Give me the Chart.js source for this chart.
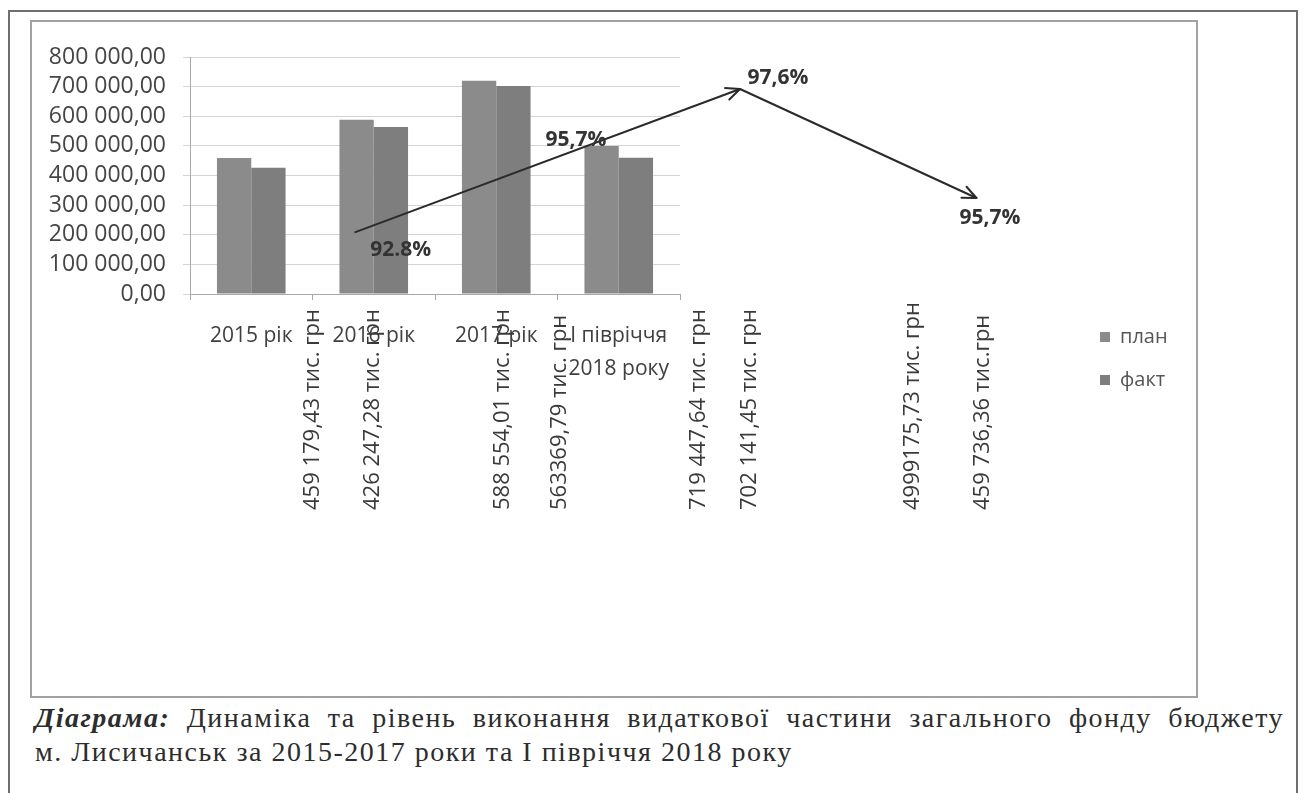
<!DOCTYPE html>
<html lang="uk">
<head>
<meta charset="utf-8">
<title>Видаткова частина загального фонду бюджету м. Лисичанськ</title>
<script src="https://cdn.jsdelivr.net/npm/chart.js@4.4.1/dist/chart.umd.min.js"></script>
<style>
  html, body { margin: 0; padding: 0; background: #fff; }
  body { width: 1306px; height: 793px; position: relative; overflow: hidden; }
  .sheet { position: absolute; left: 8px; top: 10px; width: 1286px; height: 800px; border: 2px solid #6f6f6f; }
  .frame { position: absolute; left: 30px; top: 20px; width: 1164px; height: 674px; border: 2px solid #a2a2a2; }
  #chart { position: absolute; left: 32px; top: 22px; }
  .caption { position: absolute; left: 35px; top: 701px; width: 1249px;
             font-family: 'Liberation Serif', 'Times New Roman', serif; font-size: 28px;
             letter-spacing: 1.5px; line-height: 34px; color: #2d2d2d; }
  .caption .l1 { text-align: justify; text-align-last: justify; }
  .caption .l2 { text-align: left; }
</style>
</head>
<body>
<div class="sheet"></div>
<div class="frame"></div>
<canvas id="chart" width="1164" height="674"></canvas>
<div class="caption">
  <div class="l1"><b><i>Діаграма:</i></b> Динаміка та рівень виконання видаткової частини загального фонду бюджету</div>
  <div class="l2">м. Лисичанськ за 2015-2017 роки та І півріччя 2018 року</div>
</div>
<script>
// ---- data -------------------------------------------------------------
const periods = [['2015 рік'], ['2016 рік'], ['2017 рік'], ['І півріччя', '2018 року']];
const seriesNames = ['план', 'факт'];
const planValues = [459179.43, 588554.01, 719447.64, 499175.73];
const factValues = [426247.28, 563369.79, 702141.45, 459736.36];
const amountLabels = [
  '459 179,43 тис. грн', '426 247,28 тис. грн',
  '588 554,01 тис. грн', '563369,79 тис. грн',
  '719 447,64 тис. грн', '702 141,45 тис. грн',
  '4999175,73 тис. грн', '459 736,36 тис.грн'
];
const executionLabels = ['92.8%', '95,7%', '97,6%', '95,7%'];
const yTickValues = [0, 100000, 200000, 300000, 400000, 500000, 600000, 700000, 800000];

// ---- placement of the free annotations (category index, amount) -------
const amountSlots = [0.50, 0.99, 2.05, 2.52, 3.65, 4.07, 5.40, 5.97];
const trendPath = [[0.85, 209000], [3.99, 692000], [5.92, 324000]];
const executionAnchors = [[1.22, 148500], [2.65, 520000], [4.30, 729000], [6.03, 256500]];

// ---- helpers ----------------------------------------------------------
function formatAmount(v) {
  const whole = Math.round(v).toString().replace(/\B(?=(\d{3})+(?!\d))/g, ' ');
  return whole + ',00';
}

Chart.defaults.font.family = "'Open Sans', 'Liberation Sans', sans-serif";
Chart.defaults.color = '#404040';

// Keeps the legend out of the layout flow and pins it to the right of the frame.
const legendPlacement = {
  id: 'legendPlacement',
  beforeLayout(chart) {
    const lg = chart.legend;
    if (lg && !lg.$pinned) {
      const baseFit = lg.fit;
      lg.fit = function () { baseFit.call(this); this.width = 0; };
      lg.$pinned = true;
    }
  },
  afterLayout(chart, args, opts) {
    const lg = chart.legend;
    if (!lg) return;
    lg.left = opts.left; lg.top = opts.top;
    lg.width = opts.width; lg.height = opts.height;
    lg.right = lg.left + lg.width; lg.bottom = lg.top + lg.height;
  }
};

// Rotated amount captions, the execution-rate arrow and its percentages.
const annotations = {
  id: 'annotations',
  afterDraw(chart, args, opts) {
    const { ctx, scales: { x, y } } = chart;
    const px = i => x.getPixelForValue(i);
    const py = v => y.getPixelForValue(v);

    ctx.save();
    // amounts, written bottom-to-top
    ctx.fillStyle = opts.textColor;
    ctx.font = opts.amountFont;
    ctx.textAlign = 'left';
    ctx.textBaseline = 'middle';
    amountLabels.forEach((txt, i) => {
      ctx.save();
      ctx.translate(px(amountSlots[i]), opts.amountBaseY);
      ctx.rotate(-Math.PI / 2);
      ctx.fillText(txt, 0, 0);
      ctx.restore();
    });

    // trend arrow
    const pts = trendPath.map(([i, v]) => [px(i), py(v)]);
    ctx.strokeStyle = opts.arrowColor;
    ctx.lineWidth = 2;
    ctx.lineCap = 'round';
    ctx.lineJoin = 'round';
    for (let k = 1; k < pts.length; k++) {
      const [x0, y0] = pts[k - 1];
      const [x1, y1] = pts[k];
      ctx.beginPath();
      ctx.moveTo(x0, y0);
      ctx.lineTo(x1, y1);
      ctx.stroke();
      const ang = Math.atan2(y1 - y0, x1 - x0);
      const len = 15, spread = 0.42;
      ctx.beginPath();
      ctx.moveTo(x1 - len * Math.cos(ang - spread), y1 - len * Math.sin(ang - spread));
      ctx.lineTo(x1, y1);
      ctx.lineTo(x1 - len * Math.cos(ang + spread), y1 - len * Math.sin(ang + spread));
      ctx.stroke();
    }

    // execution percentages
    ctx.fillStyle = opts.percentColor;
    ctx.font = opts.percentFont;
    ctx.textAlign = 'center';
    ctx.textBaseline = 'middle';
    executionLabels.forEach((txt, i) => {
      const [ci, v] = executionAnchors[i];
      ctx.fillText(txt, px(ci), py(v));
    });
    ctx.restore();
  }
};

new Chart(document.getElementById('chart'), {
  type: 'bar',
  data: {
    labels: periods,
    datasets: [
      { label: seriesNames[0], data: planValues, backgroundColor: '#8b8b8b',
        categoryPercentage: 0.56, barPercentage: 1.0 },
      { label: seriesNames[1], data: factValues, backgroundColor: '#7e7e7e',
        categoryPercentage: 0.56, barPercentage: 1.0 }
    ]
  },
  options: {
    responsive: false,
    animation: false,
    events: [],
    layout: { padding: { top: 35, right: 516, left: 0, bottom: 0 } },
    scales: {
      x: {
        grid: { display: true, drawOnChartArea: false, drawTicks: true, tickLength: 6, color: '#a8a8a8' },
        border: { display: true, color: '#a8a8a8', width: 1 },
        ticks: { font: { size: 21, lineHeight: 1.55 }, color: '#404040', padding: 20, maxRotation: 0, autoSkip: false },
        afterFit(scale) { scale.height = 402; }
      },
      y: {
        min: yTickValues[0],
        max: yTickValues[yTickValues.length - 1],
        afterBuildTicks(scale) { scale.ticks = yTickValues.map(v => ({ value: v })); },
        grid: { color: '#d4d4d4', tickLength: 7, drawTicks: true },
        border: { display: true, color: '#a8a8a8', width: 1 },
        ticks: { font: { size: 23, lineHeight: 1.1 }, color: '#454545', padding: 17, autoSkip: false,
                 callback: v => formatAmount(v) },
        afterFit(scale) { scale.width = 158; }
      }
    },
    plugins: {
      tooltip: { enabled: false },
      legend: {
        display: true,
        position: 'right',
        align: 'start',
        labels: { boxWidth: 10, boxHeight: 10, padding: 23, color: '#555', font: { size: 20 } }
      },
      legendPlacement: { left: 1045, top: 282, width: 160, height: 150 },
      annotations: {
        textColor: '#3a3a3a',
        amountFont: "22px 'Open Sans', 'Liberation Sans', sans-serif",
        amountBaseY: 488,
        arrowColor: '#2a2a2a',
        percentColor: '#333',
        percentFont: "bold 21px 'Open Sans', 'Liberation Sans', sans-serif"
      }
    }
  },
  plugins: [legendPlacement, annotations]
});
</script>
</body>
</html>
